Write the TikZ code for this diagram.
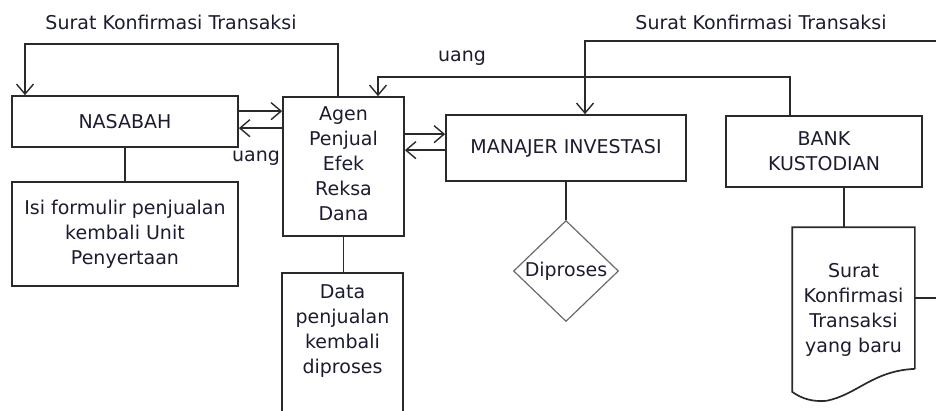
\documentclass[tikz,border=0pt]{standalone}
\usepackage{fontspec}
\setmainfont{DejaVu Sans}
\usetikzlibrary{arrows.meta,shapes.geometric}
\newcommand\dgfs{\fontsize{19}{25}\selectfont}
\definecolor{lc}{HTML}{2A2A2A}
\definecolor{tc}{HTML}{1C1C30}
\definecolor{dc}{HTML}{6A6A6A}
\begin{document}
\begin{tikzpicture}[x=1pt,y=-1pt,line width=1.7pt,
  box/.style={draw=lc,rectangle,inner sep=0pt,align=center,font=\dgfs,text=tc},
  ghost/.style={rectangle,inner sep=0pt},
  txt/.style={inner sep=0pt,align=center,font=\dgfs,text=tc},
  arr/.style={draw=lc,-{Straight Barb[length=10pt,width=17pt,line width=1.4pt]}},
  con/.style={draw=lc}]
\useasboundingbox (0,0) rectangle (936,410);

% boxes
\node[box,minimum width=226,minimum height=51] (nas) at (125,121.5) {NASABAH};
\node[box,minimum width=121,minimum height=139] (agen) at (343.5,166.5) {};
\node[txt,anchor=north] (agent) at (343.5,106) {Agen\\Penjual\\Efek\\Reksa\\Dana};
\node[box,minimum width=240,minimum height=66] (man) at (566,148) {MANAJER INVESTASI};
\node[box,minimum width=196,minimum height=71] (bank) at (824,151.5) {BANK\\KUSTODIAN};
\node[box,minimum width=226,minimum height=104] (isi) at (125,234) {Isi formulir penjualan\\kembali Unit\\Penyertaan};
\node[ghost,minimum width=119,minimum height=150] (data) at (342.5,349) {};
\draw[con] (data.south west) -- (data.north west) -- (data.north east) -- (data.south east);
\node[txt,anchor=north] (datat) at (342.5,284) {Data\\penjualan\\kembali\\diproses};
\node[draw=dc,line width=1.2pt,shape=diamond,inner sep=0pt,minimum width=105,minimum height=101] (dia) at (566,271) {};
\node[txt] (diat) at (dia.center) {Diproses};
\node[ghost,minimum width=121,minimum height=140] (doc) at (853.5,298) {};
\draw[con] (doc.south east) -- (doc.north east) -- (doc.north west) -- ([yshift=-23pt]doc.south west)
  .. controls ([xshift=10pt,yshift=-30pt]doc.south west) and ([xshift=20pt,yshift=-33pt]doc.south west) .. ([xshift=34pt,yshift=-32pt]doc.south west)
  .. controls ([xshift=65pt,yshift=-26pt]doc.south west) and ([xshift=80pt,yshift=-2pt]doc.south west) .. (doc.south east);
\node[txt] (doct) at (853.5,310) {Surat\\Konfirmasi\\Transaksi\\yang baru};

% vertical connectors
\draw[con] (nas.south) -- (isi.north);
\draw[con] (agen.south) -- (agen.south |- data.north);
\draw[con] (man.south) -- (dia.north);
\coordinate (dtop) at ([xshift=-9.5pt]doc.north);
\draw[con] (bank.south -| dtop) -- (dtop);

% arrows NASABAH <-> Agen
\draw[arr] ([yshift=-16pt]nas.north east) -- ([yshift=-16pt]nas.north east -| agen.west);
\draw[arr] ([yshift=-33pt]nas.north east -| agen.west) -- ([yshift=-33pt]nas.north east);
% arrows Agen <-> Manajer
\draw[arr] ([yshift=-20pt]man.north west -| agen.east) -- ([yshift=-20pt]man.north west);
\draw[arr] ([yshift=-36pt]man.north west) -- ([yshift=-36pt]man.north west -| agen.east);

% left loop: Surat Konfirmasi Transaksi
\coordinate (l1) at (338,44);
\draw[arr] ([xshift=-5.5pt]agen.north) |- (l1) -| ([xshift=-100pt]nas.north);
% uang loop
\coordinate (u1) at (378,77);
\draw[arr] ([xshift=-34pt]bank.north) |- (u1) -- (u1 |- agen.north);
% right loop
\coordinate (r1) at (946,41);
\draw[arr] (doc.east) -| (r1) -| ([xshift=19pt]man.north);

% labels
\node[txt] (lab1) at (171,22) {Surat Konfirmasi Transaksi};
\node[txt] (lab2) at (761,22) {Surat Konfirmasi Transaksi};
\node[txt] (lab3) at (462,58) {uang};
\node[txt] (lab4) at (256,158) {uang};
\end{tikzpicture}
\end{document}
